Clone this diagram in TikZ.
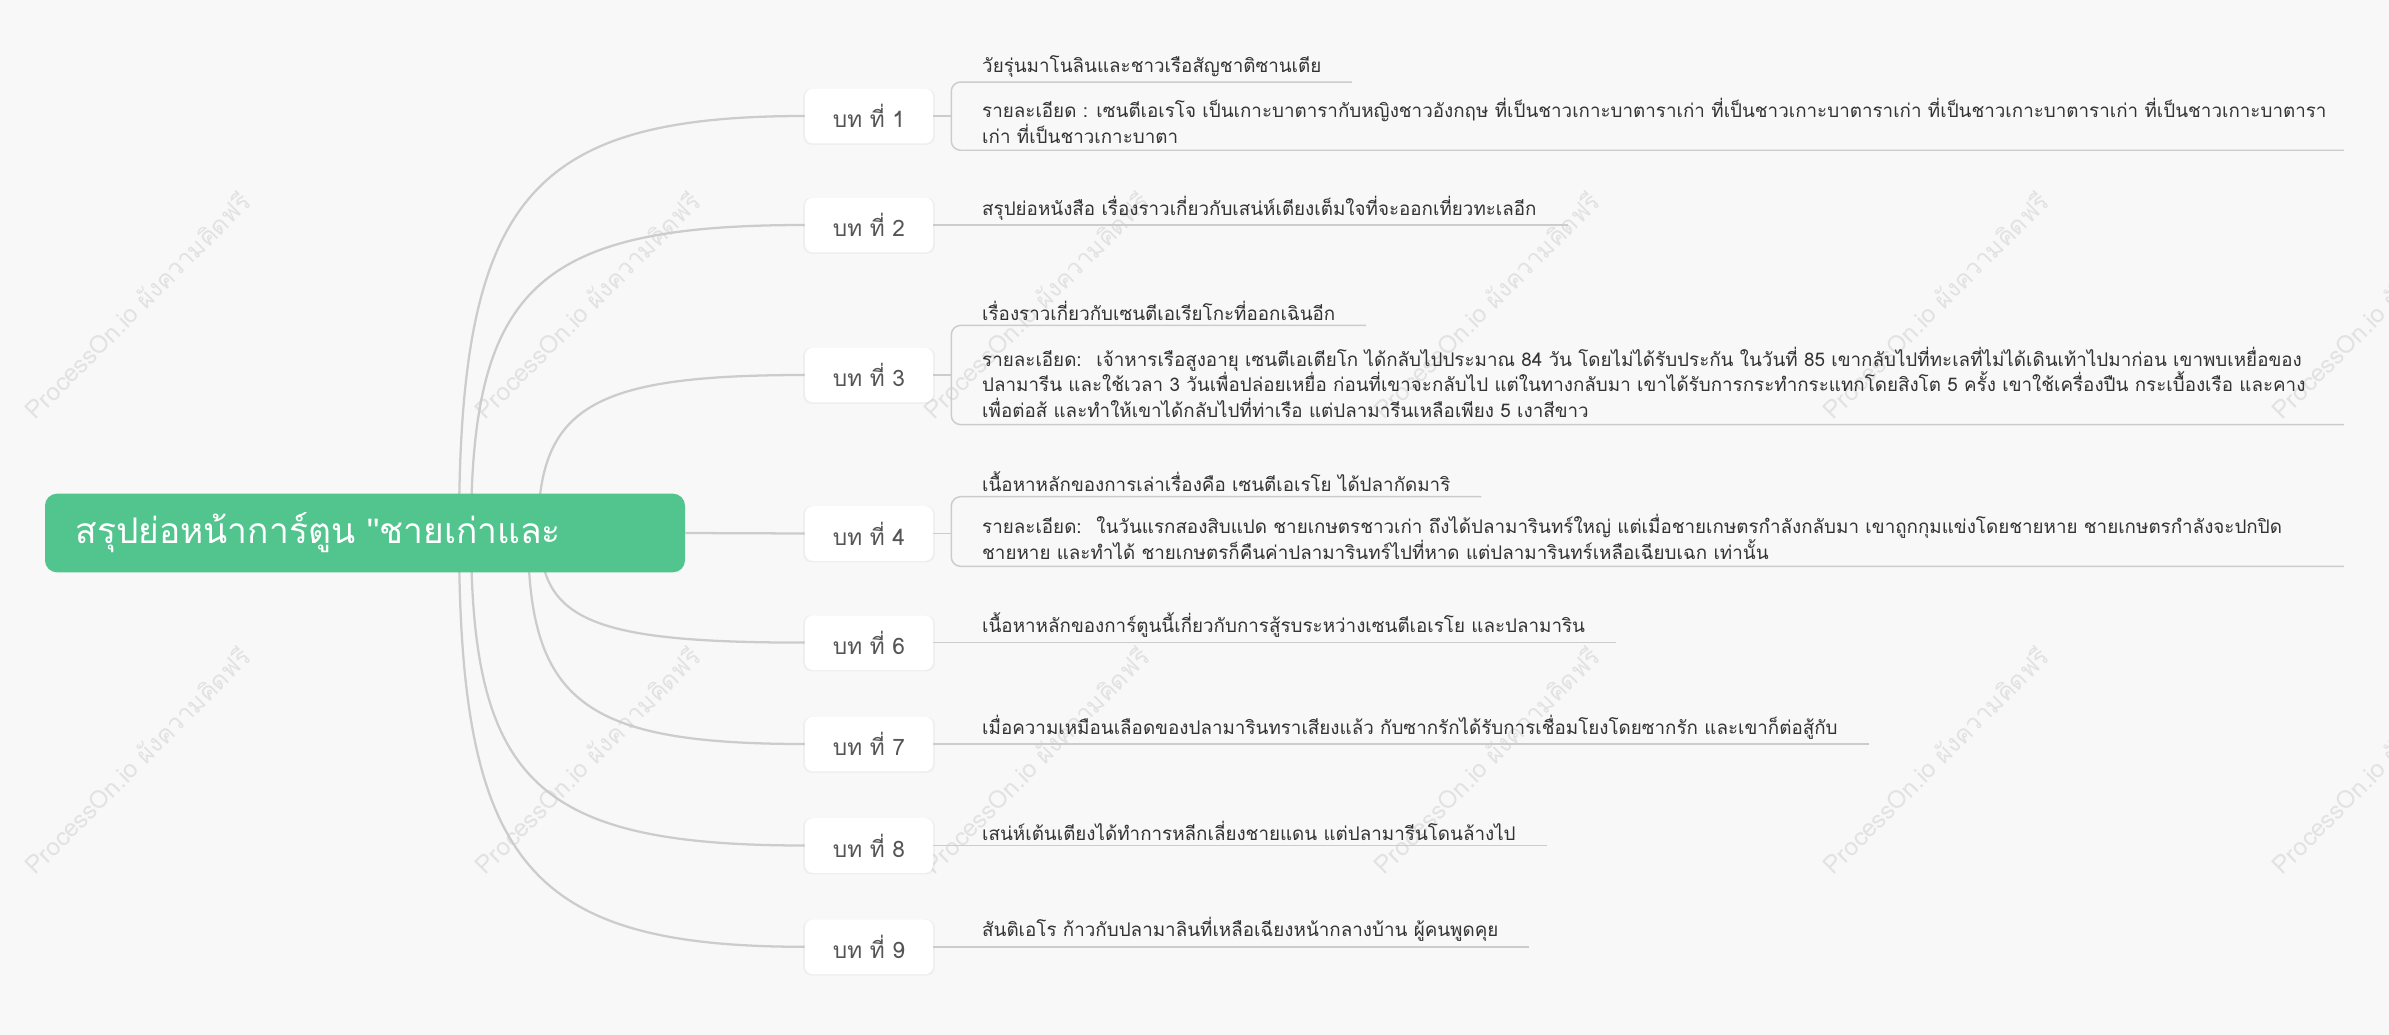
\documentclass[tikz,border=0pt]{standalone}
\usepackage{fontspec}
\usepackage{tikz}
\usetikzlibrary{positioning, calc, shadows, backgrounds}
\setmainfont[Script=Thai]{Loma}
\newfontfamily\quotefont{Liberation Sans}
\definecolor{Mint} {HTML}{52C48E}
\definecolor{Wire} {HTML}{CCCCCC}
\definecolor{Ink}  {HTML}{333333}
\definecolor{Slate}{HTML}{555555}
\definecolor{Paper}{HTML}{F8F8F8}
\definecolor{Ghost}{HTML}{E2E2E2}
\tikzset{
  rootbox/.style={fill=Mint, rounded corners=9pt, text=white,
                  font=\fontsize{26.5}{30}\selectfont, align=left,
                  text width=434pt, inner xsep=23pt, minimum height=59pt},
  chap/.style={fill=white, rounded corners=6pt, text=Slate,
               font=\fontsize{17}{20}\selectfont,
               minimum width=96pt, minimum height=41pt,
               drop shadow={shadow xshift=0pt, shadow yshift=-0.5pt,
                            shadow scale=1.03, opacity=0.07}},
  txt/.style={text=Ink, font=\fontsize{14.1}{18.75}\selectfont,
              inner xsep=23pt, inner ysep=3.5pt},
  note/.style={text=Ink, font=\fontsize{14.1}{19.2}\selectfont, align=left,
               inner xsep=23pt, inner ysep=5pt},
  link/.style={draw=Wire, line width=1.7pt},
  ul/.style={draw=Wire, line width=1.1pt},
  wmark/.style={text=Ghost, rotate=45, font=\fontsize{18.5}{22}\selectfont}
}

\begin{document}
\begin{tikzpicture}[x=0.75pt, y=-0.75pt]
  \useasboundingbox (0,0) rectangle (2389,1035);

  \node[rootbox] (rt) at (365,533) {สรุปย่อหน้าการ์ตูน {\quotefont"}ชายเก่าและ};

  % chapters
  \node[chap] (c1) at (869,116)   {บท ที่ 1};
  \node[chap] (c2) at (869,225)   {บท ที่ 2};
  \node[chap] (c3) at (869,375)   {บท ที่ 3};
  \node[chap] (c4) at (869,533.5) {บท ที่ 4};
  \node[chap] (c6) at (869,642.6) {บท ที่ 6};
  \node[chap] (c7) at (869,744)   {บท ที่ 7};
  \node[chap] (c8) at (869,845.5) {บท ที่ 8};
  \node[chap] (c9) at (869,946.8) {บท ที่ 9};

  \coordinate (rEdge) at (2344,0);

  % chapter 1
  \node[note,right=13.5pt of c1,anchor=west,yshift=-3.6pt] (d1)
    {รายละเอียด : เซนตีเอเรโจ เป็นเกาะบาตารากับหญิงชาวอังกฤษ ที่เป็นชาวเกาะบาตาราเก่า ที่เป็นชาวเกาะบาตาราเก่า ที่เป็นชาวเกาะบาตาราเก่า ที่เป็นชาวเกาะบาตารา\\
     เก่า ที่เป็นชาวเกาะบาตา};
  \node[txt,above=7pt of d1.north west,anchor=south west] (h1)
    {วัยรุ่นมาโนลินและชาวเรือสัญชาติซานเตีย};

  % chapter 2
  \node[txt,right=13.5pt of c2.east,anchor=south west] (t2)
    {สรุปย่อหนังสือ เรื่องราวเกี่ยวกับเสน่ห์เตียงเต็มใจที่จะออกเที่ยวทะเลอีก};

  % chapter 3
  \node[note,right=13.5pt of c3,anchor=west,yshift=-5.5pt] (d3)
    {รายละเอียด:~ เจ้าหารเรือสูงอายุ เซนตีเอเตียโก ได้กลับไปประมาณ 84 วัน โดยไม่ได้รับประกัน ในวันที่ 85 เขากลับไปที่ทะเลที่ไม่ได้เดินเท้าไปมาก่อน เขาพบเหยื่อของ\\
     ปลามารีน และใช้เวลา 3 วันเพื่อปล่อยเหยื่อ ก่อนที่เขาจะกลับไป แต่ในทางกลับมา เขาได้รับการกระทำกระแทกโดยสิงโต 5 ครั้ง เขาใช้เครื่องปืน กระเบื้องเรือ และคาง\\
     เพื่อต่อส้ และทำให้เขาได้กลับไปที่ท่าเรือ แต่ปลามารีนเหลือเพียง 5 เงาสีขาว};
  \node[txt,above=11pt of d3.north west,anchor=south west] (h3)
    {เรื่องราวเกี่ยวกับเซนตีเอเรียโกะที่ออกเฉินอีก};

  % chapter 4
  \node[note,right=13.5pt of c4,anchor=west,yshift=-2.5pt] (d4)
    {รายละเอียด:~ ในวันแรกสองสิบแปด ชายเกษตรชาวเก่า ถึงได้ปลามารินทร์ใหญ่ แต่เมื่อชายเกษตรกำลังกลับมา เขาถูกกุมแข่งโดยชายหาย ชายเกษตรกำลังจะปกปิด\\
     ชายหาย และทำได้ ชายเกษตรก็คืนค่าปลามารินทร์ไปที่หาด แต่ปลามารินทร์เหลือเฉียบเฉก เท่านั้น};
  \node[txt,above=8pt of d4.north west,anchor=south west] (h4)
    {เนื้อหาหลักของการเล่าเรื่องคือ เซนตีเอเรโย ได้ปลากัดมาริ};

  % chapters 6-9
  \node[txt,right=13.5pt of c6.east,anchor=south west] (t6)
    {เนื้อหาหลักของการ์ตูนนี้เกี่ยวกับการสู้รบระหว่างเซนตีเอเรโย และปลามาริน};
  \node[txt,right=13.5pt of c7.east,anchor=south west] (t7)
    {เมื่อความเหมือนเลือดของปลามารินทราเสียงแล้ว กับซากรักได้รับการเชื่อมโยงโดยซากรัก และเขาก็ต่อสู้กับ};
  \node[txt,right=13.5pt of c8.east,anchor=south west] (t8)
    {เสน่ห์เต้นเตียงได้ทำการหลีกเลี่ยงชายแดน แต่ปลามารีนโดนล้างไป};
  \node[txt,right=13.5pt of c9.east,anchor=south west] (t9)
    {สันติเอโร ก้าวกับปลามาลินที่เหลือเฉียงหน้ากลางบ้าน ผู้คนพูดคุย};

  % brackets and underlines
  \draw[ul,rounded corners=7pt] (h1.south east) -- (h1.south west)
    -- (h1.south west |- d1.south) -- (d1.south -| rEdge);
  \draw[ul,rounded corners=7pt] (h3.south east) -- (h3.south west)
    -- (h3.south west |- d3.south) -- (d3.south -| rEdge);
  \draw[ul,rounded corners=7pt] (h4.south east) -- (h4.south west)
    -- (h4.south west |- d4.south) -- (d4.south -| rEdge);
  \draw[ul] (c1.east) -- (c1.east -| d1.west);
  \draw[ul] (c3.east) -- (c3.east -| d3.west);
  \draw[ul] (c4.east) -- (c4.east -| d4.west);
  \draw[ul] (c2.east) -- (t2.south east);
  \draw[ul] (c6.east) -- (t6.south east);
  \draw[ul] (c7.east) -- (t7.south east);
  \draw[ul] (c8.east) -- (t8.south east);
  \draw[ul] (c9.east) -- (t9.south east);

  \begin{scope}[on background layer]
    \fill[Paper] (0,0) rectangle (2389,1035);
    \foreach \wx in {137,587,1036,1486,1935,2384}
      \foreach \wy in {305,760}
        \node[wmark] at (\wx,\wy) {ProcessOn.io ผังความคิดฟรี};
    % branches from the root
    \foreach \k/\sx in {1/459,2/471,3/538,6/540,7/528,8/471,9/459}{
      \coordinate (o\k) at (\sx,533);
      \draw[link] (o\k) .. controls ($(o\k)!0.8!(o\k |- c\k.west)$)
        and ($(c\k.west)!0.8!(o\k |- c\k.west)$) .. (c\k.west);
    }
    \draw[link] (rt.east) -- (c4.west);
  \end{scope}
\end{tikzpicture}
\end{document}
